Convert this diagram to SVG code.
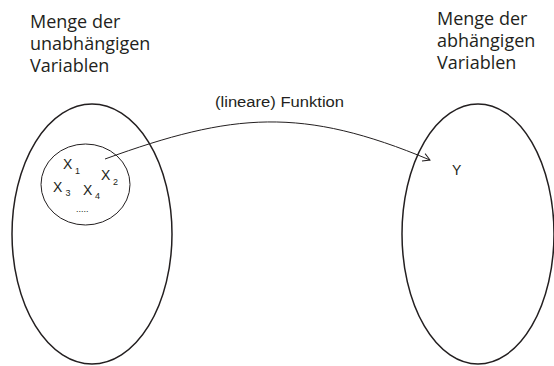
<svg xmlns="http://www.w3.org/2000/svg" width="554" height="366" viewBox="0 0 554 366">
<style>
.set{fill:none;stroke:#231f20;stroke-width:1.5}
.sub{fill:none;stroke:#231f20;stroke-width:1}
.head{font-family:"Open Sans","Liberation Sans",sans-serif;font-size:18px;fill:#231f20}
.lbl{font-family:"Liberation Sans",Arial,sans-serif;font-size:14px;fill:#231f20}
.idx{font-family:"Liberation Sans",Arial,sans-serif;font-size:9px;fill:#231f20}
.conn{fill:none;stroke:#231f20;stroke-width:1}
</style>
<defs>
<marker id="arr" markerWidth="10" markerHeight="10" refX="8" refY="5" orient="auto" markerUnits="userSpaceOnUse">
<path d="M1,1 L8,5 L1,9" fill="none" stroke="#231f20" stroke-width="1"/>
</marker>
</defs>
<rect width="554" height="366" fill="#fff"/>
<g id="heading-left">
<text class="head" x="30" y="28">Menge der</text>
<text class="head" x="30" y="50">unabhängigen</text>
<text class="head" x="30" y="72">Variablen</text>
</g>
<g id="heading-right">
<text class="head" x="437" y="25">Menge der</text>
<text class="head" x="437" y="47">abhängigen</text>
<text class="head" x="437" y="69">Variablen</text>
</g>
<g id="set-independent">
<ellipse class="set" cx="92" cy="234" rx="80" ry="130"/>
</g>
<g id="subset-x">
<ellipse class="sub" cx="85.5" cy="184.5" rx="44.5" ry="40.5"/>
<text class="lbl" x="63" y="169">X</text><text class="idx" x="75" y="174">1</text>
<text class="lbl" x="101" y="180">X</text><text class="idx" x="113" y="185">2</text>
<text class="lbl" x="53" y="192">X</text><text class="idx" x="65.5" y="196">3</text>
<text class="lbl" x="83" y="195">X</text><text class="idx" x="95" y="199">4</text>
<text class="idx" x="76" y="212">.....</text>
</g>
<g id="set-dependent">
<ellipse class="set" cx="478" cy="234" rx="76" ry="130"/>
<text class="lbl" x="452" y="175">Y</text>
</g>
<g id="connectors">
<path class="conn" d="M105,159 C233,112.5 302,106.4 430,160" marker-end="url(#arr)"/>
<text class="lbl" x="215" y="107" textLength="129" lengthAdjust="spacingAndGlyphs">(lineare) Funktion</text>
</g>
</svg>
